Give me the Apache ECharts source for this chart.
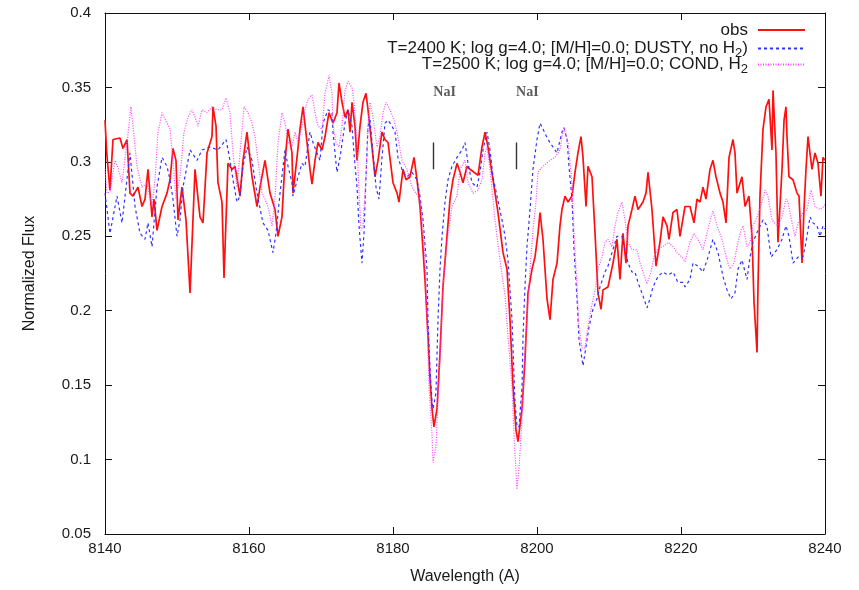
<!DOCTYPE html>
<html>
<head>
<meta charset="utf-8">
<title>Na I doublet spectrum</title>
<script src="https://cdn.jsdelivr.net/npm/echarts@6/dist/echarts.min.js"></script>
<style>
  html, body { margin: 0; padding: 0; background: #ffffff; }
  #chart { width: 859px; height: 590px; }
</style>
</head>
<body>
<div id="chart"></div>
<script>
// Observed spectrum (wavelength in Angstrom, normalized flux)
const obsWave = [
  8140.00, 8140.24, 8140.69, 8141.11, 8142.08, 8142.50, 8143.06, 8143.47, 8143.89, 8144.58,
  8145.14, 8145.56, 8145.97, 8146.53, 8146.81, 8147.22, 8147.92, 8148.61, 8149.03, 8149.44,
  8149.86, 8150.14, 8150.69, 8151.25, 8151.81, 8152.50, 8153.19, 8153.61, 8154.17, 8154.86,
  8155.00, 8155.42, 8155.69, 8156.25, 8156.53, 8157.08, 8157.64, 8158.06, 8158.75, 8159.17,
  8159.72, 8160.42, 8161.11, 8161.53, 8162.22, 8162.92, 8163.61, 8164.03, 8164.58, 8165.00,
  8165.42, 8165.97, 8166.11, 8166.67, 8167.08, 8167.50, 8168.06, 8168.47, 8168.75, 8169.17,
  8169.58, 8170.14, 8170.56, 8171.11, 8171.67, 8172.22, 8172.50, 8172.92, 8173.33, 8173.75,
  8174.03, 8174.31, 8174.72, 8175.00, 8175.42, 8175.83, 8176.25, 8176.53, 8177.08, 8177.50,
  8177.92, 8178.47, 8178.89, 8179.31, 8180.00, 8180.56, 8180.83, 8181.39, 8181.81, 8182.36,
  8182.92, 8183.33, 8183.75, 8184.17, 8184.44, 8184.86, 8185.14, 8185.42, 8185.69, 8186.11,
  8186.53, 8186.94, 8187.50, 8187.92, 8188.33, 8188.89, 8189.31, 8189.72, 8190.28, 8190.69,
  8191.81, 8192.36, 8192.78, 8193.19, 8193.89, 8194.58, 8195.28, 8195.83, 8196.25, 8196.67,
  8197.08, 8197.36, 8197.92, 8198.33, 8198.75, 8199.31, 8199.72, 8200.14, 8200.42, 8200.83,
  8201.39, 8201.81, 8202.22, 8202.78, 8203.19, 8203.47, 8203.89, 8204.31, 8204.86, 8205.28,
  8205.69, 8206.11, 8206.39, 8206.81, 8207.08, 8207.64, 8208.06, 8208.47, 8208.89, 8209.17,
  8209.86, 8210.56, 8211.11, 8211.53, 8211.94, 8212.36, 8212.64, 8213.19, 8213.61, 8214.03,
  8214.72, 8215.14, 8215.42, 8215.97, 8216.53, 8217.08, 8217.50, 8218.06, 8218.33, 8218.89,
  8219.44, 8219.86, 8220.56, 8221.25, 8221.81, 8222.22, 8222.64, 8223.06, 8223.47, 8224.03,
  8224.44, 8224.86, 8225.42, 8225.83, 8226.25, 8226.67, 8227.22, 8227.50, 8227.78, 8228.47,
  8228.89, 8229.44, 8229.86, 8230.14, 8230.56, 8230.69, 8230.97, 8231.39, 8231.81, 8232.22,
  8232.64, 8232.78, 8233.19, 8233.47, 8234.03, 8234.31, 8234.58, 8234.72, 8235.00, 8235.56,
  8236.11, 8236.39, 8236.81, 8237.08, 8237.36, 8237.64, 8238.19, 8238.61, 8239.03, 8239.44,
  8239.72, 8240.00
];
const obsFlux = [
  0.328, 0.306, 0.281, 0.315, 0.316, 0.309, 0.315, 0.279, 0.277, 0.283,
  0.270, 0.275, 0.295, 0.263, 0.275, 0.254, 0.270, 0.279, 0.288, 0.309,
  0.301, 0.261, 0.283, 0.261, 0.212, 0.295, 0.263, 0.259, 0.306, 0.317,
  0.337, 0.324, 0.286, 0.273, 0.222, 0.299, 0.295, 0.297, 0.277, 0.301,
  0.320, 0.290, 0.270, 0.283, 0.301, 0.279, 0.268, 0.250, 0.263, 0.301,
  0.322, 0.306, 0.279, 0.303, 0.322, 0.337, 0.313, 0.295, 0.285, 0.301,
  0.313, 0.308, 0.317, 0.333, 0.326, 0.333, 0.353, 0.340, 0.330, 0.335,
  0.320, 0.340, 0.324, 0.301, 0.324, 0.340, 0.346, 0.335, 0.310, 0.290,
  0.301, 0.320, 0.315, 0.313, 0.286, 0.279, 0.273, 0.295, 0.288, 0.290,
  0.303, 0.288, 0.270, 0.241, 0.221, 0.183, 0.154, 0.134, 0.122, 0.134,
  0.172, 0.216, 0.250, 0.275, 0.288, 0.299, 0.293, 0.286, 0.297, 0.295,
  0.291, 0.310, 0.320, 0.310, 0.288, 0.266, 0.239, 0.228, 0.194, 0.149,
  0.120, 0.112, 0.134, 0.167, 0.212, 0.228, 0.236, 0.252, 0.266, 0.248,
  0.208, 0.194, 0.221, 0.232, 0.257, 0.268, 0.277, 0.273, 0.277, 0.293,
  0.306, 0.317, 0.303, 0.270, 0.297, 0.290, 0.252, 0.212, 0.201, 0.214,
  0.216, 0.232, 0.248, 0.221, 0.252, 0.232, 0.257, 0.268, 0.277, 0.268,
  0.273, 0.279, 0.293, 0.268, 0.230, 0.246, 0.263, 0.257, 0.248, 0.266,
  0.268, 0.250, 0.270, 0.270, 0.259, 0.275, 0.273, 0.283, 0.275, 0.295,
  0.301, 0.290, 0.279, 0.273, 0.259, 0.303, 0.315, 0.306, 0.279, 0.290,
  0.270, 0.277, 0.250, 0.206, 0.172, 0.216, 0.277, 0.322, 0.337, 0.342,
  0.308, 0.348, 0.306, 0.246, 0.295, 0.328, 0.337, 0.317, 0.290, 0.288,
  0.279, 0.277, 0.232, 0.268, 0.295, 0.317, 0.295, 0.306, 0.299, 0.277,
  0.303, 0.301
];

// Model: T=2400 K, DUSTY
const dustyWave = [
  8140.00, 8140.69, 8141.67, 8142.36, 8143.47, 8144.17, 8144.86, 8145.56, 8145.97, 8146.53,
  8147.22, 8147.92, 8148.61, 8149.03, 8149.44, 8150.00, 8150.42, 8150.83, 8151.81, 8152.78,
  8153.47, 8154.58, 8155.69, 8156.81, 8157.36, 8157.78, 8158.33, 8158.75, 8159.17, 8159.72,
  8160.42, 8161.11, 8161.94, 8162.64, 8163.33, 8163.75, 8164.31, 8165.00, 8165.42, 8165.97,
  8166.11, 8166.81, 8167.36, 8167.78, 8168.47, 8168.89, 8169.44, 8169.86, 8170.28, 8170.97,
  8171.53, 8171.67, 8171.94, 8172.22, 8172.64, 8173.06, 8173.33, 8173.75, 8174.31, 8174.58,
  8175.00, 8175.28, 8175.69, 8175.97, 8176.25, 8176.53, 8176.81, 8177.22, 8177.64, 8178.06,
  8178.47, 8178.89, 8179.31, 8179.86, 8180.28, 8180.69, 8181.39, 8181.94, 8182.64, 8183.33,
  8183.75, 8184.17, 8184.72, 8184.86, 8185.14, 8185.42, 8185.56, 8185.97, 8186.25, 8186.53,
  8186.81, 8187.22, 8187.64, 8188.19, 8188.89, 8189.58, 8190.00, 8190.42, 8190.97, 8191.67,
  8192.08, 8192.50, 8193.06, 8193.47, 8193.89, 8194.44, 8195.14, 8195.56, 8195.97, 8196.53,
  8196.94, 8197.22, 8197.50, 8197.92, 8198.06, 8198.33, 8198.61, 8199.03, 8199.44, 8200.00,
  8200.42, 8200.83, 8201.53, 8202.22, 8202.78, 8203.47, 8203.75, 8204.17, 8204.44, 8204.86,
  8205.14, 8205.56, 8205.83, 8206.39, 8206.81, 8207.22, 8207.78, 8208.33, 8208.75, 8209.44,
  8209.86, 8210.42, 8211.11, 8211.81, 8212.22, 8212.64, 8213.19, 8213.61, 8214.03, 8214.72,
  8215.28, 8215.69, 8216.11, 8216.81, 8217.50, 8218.19, 8218.89, 8219.58, 8220.28, 8220.56,
  8221.25, 8221.67, 8222.36, 8223.06, 8223.75, 8224.44, 8225.14, 8225.83, 8226.39, 8226.94,
  8227.50, 8227.92, 8228.47, 8229.17, 8229.58, 8230.00, 8230.69, 8231.39, 8231.94, 8232.50,
  8233.33, 8234.03, 8234.58, 8235.00, 8235.56, 8236.25, 8236.94, 8237.36, 8237.92, 8238.33,
  8238.89, 8239.31, 8239.72, 8240.00
];
const dustyFlux = [
  0.279, 0.252, 0.277, 0.259, 0.306, 0.270, 0.252, 0.248, 0.259, 0.243,
  0.283, 0.303, 0.297, 0.288, 0.275, 0.250, 0.261, 0.283, 0.308, 0.301,
  0.308, 0.310, 0.308, 0.315, 0.301, 0.288, 0.273, 0.277, 0.297, 0.310,
  0.301, 0.279, 0.259, 0.254, 0.239, 0.252, 0.279, 0.308, 0.297, 0.286,
  0.277, 0.290, 0.299, 0.297, 0.320, 0.313, 0.306, 0.301, 0.326, 0.335,
  0.333, 0.320, 0.306, 0.293, 0.303, 0.317, 0.326, 0.335, 0.324, 0.306,
  0.283, 0.257, 0.232, 0.252, 0.290, 0.324, 0.328, 0.306, 0.283, 0.275,
  0.303, 0.326, 0.328, 0.324, 0.320, 0.303, 0.293, 0.290, 0.293, 0.288,
  0.277, 0.261, 0.228, 0.194, 0.161, 0.139, 0.134, 0.145, 0.194, 0.228,
  0.250, 0.273, 0.288, 0.297, 0.303, 0.308, 0.313, 0.299, 0.286, 0.283,
  0.293, 0.308, 0.320, 0.308, 0.290, 0.277, 0.261, 0.250, 0.234, 0.194,
  0.139, 0.122, 0.122, 0.149, 0.183, 0.216, 0.243, 0.268, 0.295, 0.315,
  0.326, 0.322, 0.315, 0.310, 0.306, 0.320, 0.323, 0.315, 0.297, 0.275,
  0.241, 0.208, 0.181, 0.163, 0.176, 0.189, 0.201, 0.208, 0.216, 0.226,
  0.230, 0.239, 0.250, 0.250, 0.241, 0.232, 0.226, 0.226, 0.219, 0.210,
  0.202, 0.208, 0.216, 0.223, 0.226, 0.224, 0.226, 0.219, 0.219, 0.216,
  0.221, 0.232, 0.230, 0.226, 0.236, 0.248, 0.239, 0.223, 0.214, 0.208,
  0.212, 0.228, 0.234, 0.221, 0.236, 0.246, 0.254, 0.261, 0.257, 0.236,
  0.241, 0.248, 0.257, 0.250, 0.232, 0.236, 0.236, 0.246, 0.263, 0.259,
  0.257, 0.250, 0.257, 0.255
];

// Model: T=2500 K, COND
const condWave = [
  8140.00, 8140.28, 8140.69, 8141.39, 8141.81, 8142.36, 8143.06, 8143.61, 8143.89, 8144.44,
  8145.14, 8145.83, 8146.53, 8146.94, 8147.36, 8147.92, 8148.61, 8149.03, 8149.44, 8149.86,
  8150.42, 8150.97, 8151.53, 8152.08, 8152.50, 8152.92, 8153.47, 8154.17, 8154.86, 8155.56,
  8156.25, 8156.81, 8157.36, 8157.78, 8158.33, 8158.75, 8159.31, 8159.86, 8160.42, 8160.83,
  8161.25, 8161.81, 8162.22, 8162.64, 8163.19, 8163.61, 8164.03, 8164.58, 8165.00, 8165.42,
  8165.97, 8166.39, 8166.81, 8167.36, 8167.78, 8168.19, 8168.75, 8169.17, 8169.58, 8170.14,
  8170.56, 8171.11, 8171.53, 8171.67, 8172.08, 8172.50, 8172.92, 8173.33, 8173.75, 8174.31,
  8174.58, 8175.00, 8175.28, 8175.56, 8175.83, 8176.25, 8176.53, 8176.81, 8177.22, 8177.78,
  8178.19, 8178.61, 8179.03, 8179.58, 8180.00, 8180.56, 8181.25, 8181.94, 8182.64, 8183.33,
  8183.75, 8184.03, 8184.17, 8184.44, 8184.72, 8185.00, 8185.42, 8185.56, 8185.97, 8186.25,
  8186.67, 8186.94, 8187.50, 8188.19, 8188.89, 8189.31, 8190.00, 8190.42, 8191.11, 8191.81,
  8192.36, 8192.78, 8193.06, 8193.47, 8194.17, 8194.86, 8195.56, 8195.97, 8196.53, 8196.81,
  8197.22, 8197.50, 8197.92, 8198.19, 8198.61, 8199.03, 8199.44, 8199.86, 8200.14, 8200.83,
  8201.81, 8202.50, 8203.19, 8203.47, 8203.75, 8204.31, 8204.86, 8205.14, 8205.56, 8205.83,
  8206.25, 8206.67, 8206.94, 8207.50, 8208.06, 8208.47, 8209.03, 8209.44, 8209.86, 8210.42,
  8210.83, 8211.25, 8211.81, 8212.22, 8212.64, 8213.19, 8213.89, 8214.31, 8214.72, 8215.28,
  8215.83, 8216.25, 8216.81, 8217.50, 8218.19, 8218.89, 8219.44, 8220.14, 8220.56, 8221.25,
  8221.81, 8222.36, 8223.06, 8223.61, 8224.17, 8224.44, 8225.00, 8225.69, 8226.39, 8226.81,
  8227.36, 8227.78, 8228.33, 8228.61, 8229.17, 8229.58, 8230.00, 8230.56, 8231.25, 8231.67,
  8232.08, 8232.64, 8233.33, 8234.03, 8234.58, 8234.86, 8235.42, 8235.83, 8236.25, 8236.94,
  8237.50, 8238.06, 8238.61, 8239.31, 8239.86, 8240.00
];
const condFlux = [
  0.295, 0.279, 0.280, 0.301, 0.296, 0.286, 0.313, 0.337, 0.324, 0.297,
  0.283, 0.286, 0.270, 0.288, 0.320, 0.333, 0.326, 0.322, 0.301, 0.275,
  0.290, 0.320, 0.330, 0.335, 0.330, 0.324, 0.335, 0.333, 0.337, 0.335,
  0.335, 0.343, 0.333, 0.306, 0.283, 0.306, 0.337, 0.333, 0.326, 0.317,
  0.301, 0.279, 0.275, 0.270, 0.257, 0.275, 0.313, 0.333, 0.326, 0.313,
  0.310, 0.320, 0.313, 0.324, 0.335, 0.342, 0.345, 0.333, 0.324, 0.322,
  0.346, 0.358, 0.346, 0.324, 0.313, 0.310, 0.324, 0.348, 0.354, 0.350,
  0.340, 0.313, 0.279, 0.254, 0.257, 0.290, 0.324, 0.340, 0.330, 0.310,
  0.317, 0.333, 0.340, 0.335, 0.330, 0.320, 0.301, 0.295, 0.283, 0.278,
  0.275, 0.263, 0.257, 0.234, 0.194, 0.149, 0.116, 0.098, 0.109, 0.139,
  0.183, 0.216, 0.246, 0.270, 0.277, 0.295, 0.301, 0.286, 0.279, 0.281,
  0.288, 0.306, 0.310, 0.295, 0.261, 0.234, 0.210, 0.183, 0.149, 0.116,
  0.080, 0.094, 0.127, 0.161, 0.194, 0.228, 0.254, 0.273, 0.293, 0.297,
  0.301, 0.303, 0.308, 0.317, 0.323, 0.313, 0.286, 0.252, 0.216, 0.189,
  0.175, 0.175, 0.185, 0.201, 0.214, 0.228, 0.236, 0.246, 0.248, 0.243,
  0.257, 0.266, 0.273, 0.261, 0.246, 0.241, 0.241, 0.232, 0.226, 0.218,
  0.226, 0.236, 0.242, 0.243, 0.246, 0.243, 0.239, 0.236, 0.233, 0.246,
  0.252, 0.248, 0.241, 0.252, 0.263, 0.267, 0.257, 0.248, 0.234, 0.228,
  0.232, 0.243, 0.254, 0.257, 0.243, 0.246, 0.257, 0.263, 0.273, 0.281,
  0.277, 0.261, 0.257, 0.263, 0.275, 0.273, 0.259, 0.250, 0.259, 0.266,
  0.268, 0.281, 0.270, 0.268, 0.270, 0.272
];

// Na I line markers
const naiWave = [8185.6, 8197.1];
const naiTickFlux = [0.295, 0.313];
const naiLabelFlux = 0.347;

const obsName = 'obs';
const dustyName = 'T=2400 K; log g=4.0; [M/H]=0.0; DUSTY, no H\u2082)';
const condName = 'T=2500 K; log g=4.0; [M/H]=0.0; COND, H\u2082';

function zip(w, f) { return w.map((x, i) => [x, f[i]]); }

const sans = '"Liberation Sans", Arial, Helvetica, sans-serif';
const ink = '#1a1a1a';

function baseAxis(extra) {
  return Object.assign({
    type: 'value',
    axisLine: { show: true, onZero: false, lineStyle: { color: '#111', width: 1 } },
    axisTick: { show: true, inside: true, length: 7, lineStyle: { color: '#111', width: 1 } },
    splitLine: { show: false },
    axisLabel: { show: false }
  }, extra);
}

// One legend per row so the line samples share a common right edge;
// the subscript digit is drawn as a smaller, lowered rich-text token.
function legendRow(name, centerY) {
  return {
    data: [name],
    orient: 'horizontal',
    right: 53,
    top: centerY - 9,
    padding: 0,
    align: 'right',
    itemWidth: 47,
    itemHeight: 2,
    itemStyle: { opacity: 0 },
    selectedMode: false,
    formatter: n => n.replace('\u2082', '{s|2}'),
    textStyle: {
      fontFamily: sans, fontSize: 17, lineHeight: 18, color: ink, padding: [0, 5, 0, 0],
      rich: {
        s: { fontFamily: sans, fontSize: 13, lineHeight: 13, color: ink, padding: [10, 0, 0, 0] }
      }
    }
  };
}

const chart = echarts.init(document.getElementById('chart'), null, { renderer: 'canvas' });

chart.setOption({
  animation: false,
  backgroundColor: '#ffffff',
  grid: { left: 105, right: 34, top: 13, bottom: 55, containLabel: false },
  xAxis: [
    baseAxis({
      position: 'bottom', min: 8140, max: 8240, interval: 20,
      name: 'Wavelength (A)', nameLocation: 'middle', nameGap: 35,
      nameTextStyle: { fontFamily: sans, fontSize: 16, color: ink },
      axisLabel: { show: true, margin: 7, fontFamily: sans, fontSize: 15, color: ink,
                   showMinLabel: true, showMaxLabel: true,
                   formatter: v => String(v) }
    }),
    baseAxis({ position: 'top', min: 8140, max: 8240, interval: 20 })
  ],
  yAxis: [
    baseAxis({
      position: 'left', min: 0.05, max: 0.4, interval: 0.05,
      name: 'Normalized Flux', nameLocation: 'middle', nameGap: 67,
      nameTextStyle: { fontFamily: sans, fontSize: 16, color: ink },
      axisLabel: { show: true, margin: 14, fontFamily: sans, fontSize: 15, color: ink,
                   showMinLabel: true, showMaxLabel: true }
    }),
    baseAxis({ position: 'right', min: 0.05, max: 0.4, interval: 0.05 })
  ],
  legend: [
    legendRow(obsName, 30),
    legendRow(dustyName, 46),
    legendRow(condName, 62)
  ],
  series: [
    {
      name: obsName, type: 'line', data: zip(obsWave, obsFlux),
      symbol: 'none', smooth: false,
      lineStyle: { color: '#ff1010', width: 1.7 },
      itemStyle: { color: '#ff1010' },
      z: 2
    },
    {
      name: dustyName, type: 'line', data: zip(dustyWave, dustyFlux),
      symbol: 'none', smooth: false,
      lineStyle: { color: '#3333ff', width: 1.2, type: [3, 3] },
      itemStyle: { color: '#3333ff' },
      z: 3
    },
    {
      name: condName, type: 'line', data: zip(condWave, condFlux),
      symbol: 'none', smooth: false,
      lineStyle: { color: '#ff44ff', width: 1.2, type: [1, 1.5] },
      itemStyle: { color: '#ff44ff' },
      z: 4
    },
    {
      name: 'NaI', type: 'scatter',
      data: naiWave.map(w => [w, naiLabelFlux]),
      symbolSize: 0,
      silent: true,
      label: {
        show: true, position: 'right', distance: 0, formatter: 'NaI',
        fontFamily: '"Liberation Serif", "Times New Roman", serif',
        fontWeight: 'bold', fontSize: 14, color: '#333'
      },
      markLine: {
        silent: true, symbol: 'none', animation: false,
        label: { show: false },
        lineStyle: { color: '#333', width: 1.4, type: 'solid' },
        data: naiWave.map(w => [
          { coord: [w, naiTickFlux[0]] },
          { coord: [w, naiTickFlux[1]] }
        ])
      },
      z: 5
    }
  ]
});
</script>
</body>
</html>
